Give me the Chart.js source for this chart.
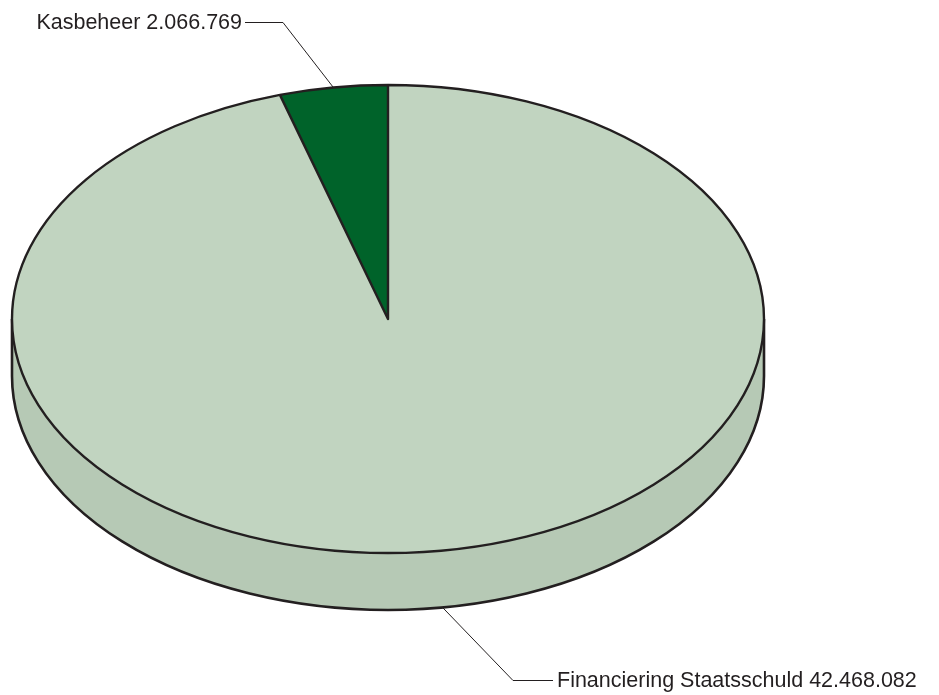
<!DOCTYPE html>
<html>
<head>
<meta charset="utf-8">
<script src="https://cdn.jsdelivr.net/npm/chart.js@4.4.1/dist/chart.umd.min.js"></script>
<style>
  body { margin: 0; background: #fff; }
  canvas { display: block; }
</style>
</head>
<body>
<canvas id="pie" width="939" height="695"></canvas>
<script>
// Gegevens
const categories = ['Financiering Staatsschuld', 'Kasbeheer'];
const values = [42468082, 2066769];
const topColors = ['#c1d4c0', '#00632a'];
const sideColors = ['#b6c9b5', '#004d20'];

// Uiterlijk van de "3D" taart
const CENTER_Y = 319;      // midden van het bovenvlak
const TILT = 234 / 376;    // verhouding korte / lange as
const DEPTH = 57;          // dikte van de zijkant in pixels
const EDGE = '#231f20';

function formatNumber(n) {
    return String(n).replace(/\B(?=(\d{3})+(?!\d))/g, '.');
}

// Stroke a path with an untransformed context so the line width stays even
function strokeFlat(ctx, width) {
    ctx.save();
    ctx.setTransform(1, 0, 0, 1, 0, 0);
    ctx.lineWidth = width;
    ctx.lineJoin = 'round';
    ctx.strokeStyle = EDGE;
    ctx.stroke();
    ctx.restore();
}

const tiltPlugin = {
    id: 'tilt',
    beforeDatasetsDraw(chart) {
        const ctx = chart.ctx;
        const arcs = chart.getDatasetMeta(0).data;
        const a0 = arcs[0];
        const R = a0.outerRadius;
        const d = DEPTH / TILT;
        ctx.save();
        ctx.translate(0, CENTER_Y);
        ctx.scale(1, TILT);
        ctx.translate(0, -a0.y);

        // zijkant: band tussen boven- en onderrand, per sector ingekleurd
        const band = () => {
            ctx.beginPath();
            ctx.moveTo(a0.x - R, a0.y);
            ctx.lineTo(a0.x - R, a0.y + d);
            ctx.arc(a0.x, a0.y + d, R, Math.PI, 0, true);
            ctx.lineTo(a0.x + R, a0.y);
            ctx.arc(a0.x, a0.y, R, 0, Math.PI, false);
            ctx.closePath();
        };
        ctx.save();
        band();
        ctx.clip();
        arcs.forEach((arc, i) => {
            ctx.beginPath();
            ctx.moveTo(arc.x, arc.y + d / 2);
            ctx.arc(arc.x, arc.y + d / 2, arc.outerRadius * 2, arc.startAngle, arc.endAngle);
            ctx.closePath();
            ctx.fillStyle = sideColors[i];
            ctx.fill();
        });
        ctx.restore();

        // omtrek van de zijkant
        ctx.beginPath();
        ctx.moveTo(a0.x - R, a0.y);
        ctx.lineTo(a0.x - R, a0.y + d);
        ctx.arc(a0.x, a0.y + d, R, Math.PI, 0, true);
        ctx.lineTo(a0.x + R, a0.y);
        strokeFlat(ctx, 2.6);
    },
    afterDatasetsDraw(chart) {
        const ctx = chart.ctx;
        const arcs = chart.getDatasetMeta(0).data;

        // randen van het bovenvlak
        ctx.beginPath();
        arcs.forEach((arc) => {
            ctx.moveTo(arc.x, arc.y);
            ctx.arc(arc.x, arc.y, arc.outerRadius, arc.startAngle, arc.endAngle);
            ctx.closePath();
        });
        strokeFlat(ctx, 2.4);
        ctx.restore();

        // labels met verbindingslijnen
        const ptOn = (arc, extra) => {
            const mid = (arc.startAngle + arc.endAngle) / 2;
            return {
                x: arc.x + arc.outerRadius * Math.cos(mid),
                y: CENTER_Y + arc.outerRadius * Math.sin(mid) * TILT + extra
            };
        };

        ctx.save();
        ctx.font = '21.5px "Liberation Sans", Arial, sans-serif';
        ctx.fillStyle = EDGE;
        ctx.strokeStyle = EDGE;
        ctx.lineWidth = 1;

        // Kasbeheer
        const pk = ptOn(arcs[1], 0);
        ctx.beginPath();
        ctx.moveTo(245, 22.5);
        ctx.lineTo(283, 22.5);
        ctx.lineTo(pk.x, pk.y);
        ctx.stroke();
        ctx.textAlign = 'right';
        ctx.textBaseline = 'alphabetic';
        ctx.fillText(categories[1] + ' ' + formatNumber(values[1]), 242, 28.5);

        // Financiering Staatsschuld
        const pf = ptOn(arcs[0], DEPTH);
        ctx.beginPath();
        ctx.moveTo(pf.x, pf.y);
        ctx.lineTo(513, 680.5);
        ctx.lineTo(553, 680.5);
        ctx.stroke();
        ctx.textAlign = 'left';
        ctx.fillText(categories[0] + ' ' + formatNumber(values[0]), 557, 687);
        ctx.restore();
    }
};

new Chart(document.getElementById('pie'), {
    type: 'pie',
    data: {
        labels: categories,
        datasets: [{
            data: values,
            backgroundColor: topColors,
            borderWidth: 0,
            radius: 376,
            clip: false
        }]
    },
    options: {
        responsive: false,
        animation: false,
        layout: { padding: { left: 0, right: 163, top: 0, bottom: 0 } },
        plugins: {
            legend: { display: false },
            tooltip: { enabled: false }
        }
    },
    plugins: [tiltPlugin]
});
</script>
</body>
</html>
